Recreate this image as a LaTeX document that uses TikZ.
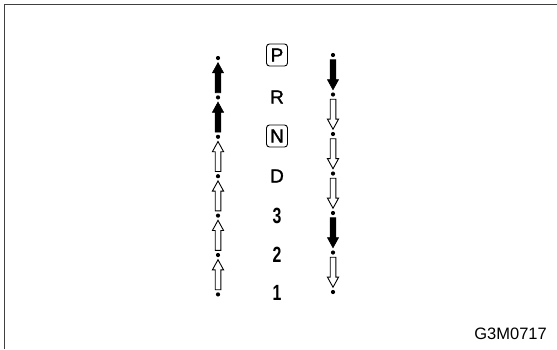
\documentclass[tikz,border=0pt]{standalone}
\usepackage{fontspec}
\setmainfont{Liberation Sans}
\newfontfamily\heavysans{Liberation Sans}[FakeBold=1.3]
\usetikzlibrary{calc}
\begin{document}
\begin{tikzpicture}[x=1pt,y=-1pt,
  dot/.style={circle,fill=black,inner sep=0pt,minimum size=4.2pt},
  lab/.style={font=\heavysans\fontsize{19}{19}\selectfont, inner sep=0pt},
  digit/.style={font=\fontsize{22}{22}\selectfont\bfseries, inner sep=0pt},
  boxed/.style={draw, rounded corners=3pt, line width=0.9pt, minimum width=21pt, minimum height=22pt},
  frameline/.style={line width=1.3pt, draw=black!75},
  arr/.pic={\path[pic actions] (-2.8,15) -- (-2.8,-4.8) -- (-5.6,-4.8) -- (0,-15) -- (5.6,-4.8) -- (2.8,-4.8) -- (2.8,15) -- cycle;},
  solidarr/.style={draw=black, fill=black, line width=0.6pt},
  openarr/.style={draw=black, fill=white, line width=0.9pt},
  code/.style={font=\fontsize{16.5}{16.5}\selectfont, inner sep=0pt, anchor=east}
]
\useasboundingbox (0,0) rectangle (557,349);
\draw[frameline] (4.3,349) -- (4.3,4.8) -- (557,4.8);

% dots
\foreach \i in {0,...,6} {
  \node[dot] (L\i) at (218, 58+39.4*\i) {};
  \node[dot] (R\i) at (333, 55+39.5*\i) {};
}

% left column: up arrows
\pic[solidarr] at ($(L0)!0.5!(L1)$) {arr};
\pic[solidarr] at ($(L1)!0.5!(L2)$) {arr};
\pic[openarr] at ($(L2)!0.5!(L3)$) {arr};
\pic[openarr] at ($(L3)!0.5!(L4)$) {arr};
\pic[openarr] at ($(L4)!0.5!(L5)$) {arr};
\pic[openarr] at ($(L5)!0.5!(L6)$) {arr};

% right column: down arrows
\pic[solidarr, rotate=180] at ($(R0)!0.5!(R1)$) {arr};
\pic[openarr, rotate=180] at ($(R1)!0.5!(R2)$) {arr};
\pic[openarr, rotate=180] at ($(R2)!0.5!(R3)$) {arr};
\pic[openarr, rotate=180] at ($(R3)!0.5!(R4)$) {arr};
\pic[solidarr, rotate=180] at ($(R4)!0.5!(R5)$) {arr};
\pic[openarr, rotate=180] at ($(R5)!0.5!(R6)$) {arr};

% labels
\node[lab, boxed] (P) at (277,55) {P};
\node[lab] (Rl) at (277,97) {R};
\node[lab, boxed] (N) at (277,136) {N};
\node[lab] (D) at (277,176) {D};
\node[digit] (d3) at (277,216) {\scalebox{0.72}[1]{3}};
\node[digit] (d2) at (277,255) {\scalebox{0.72}[1]{2}};
\node[digit] (d1) at (277,293) {\scalebox{0.72}[1]{1}};

\node[code] (id) at (547,334) {G3M0717};
\end{tikzpicture}
\end{document}
